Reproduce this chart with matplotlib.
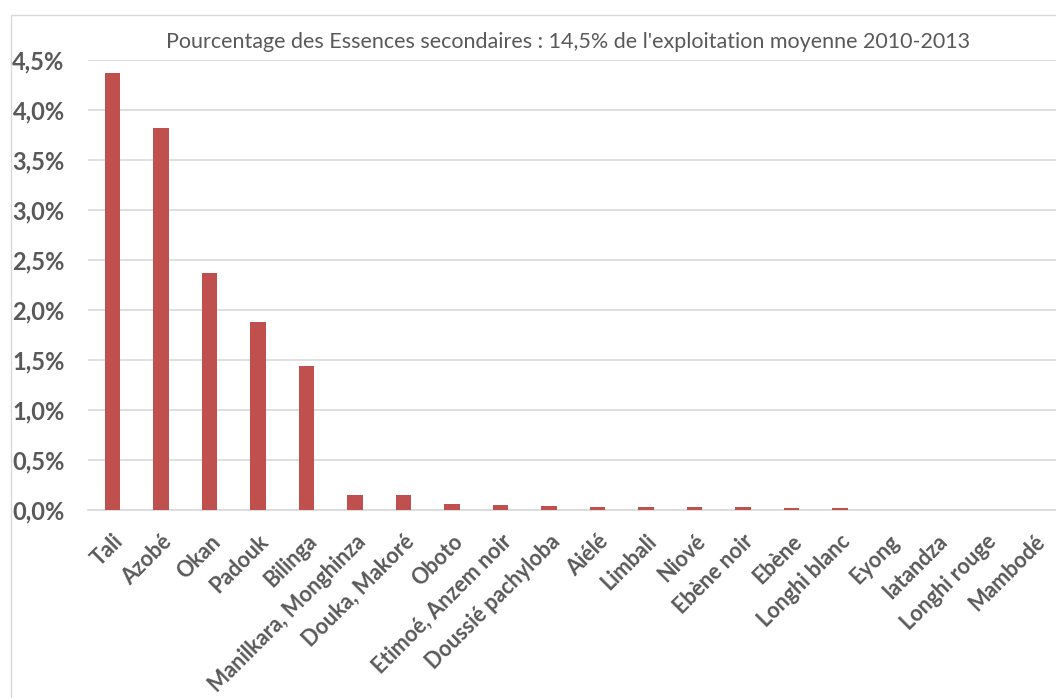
import matplotlib
matplotlib.use("Agg")
import matplotlib.pyplot as plt
from matplotlib.patches import Rectangle
from matplotlib.ticker import FuncFormatter

# essences and their share (%) of the average harvest
essences = ["Tali", "Azobé", "Okan", "Padouk", "Bilinga", "Manilkara, Monghinza",
            "Douka, Makoré", "Oboto", "Etimoé, Anzem noir", "Doussié pachyloba",
            "Aiélé", "Limbali", "Niové", "Ebène noir", "Ebène", "Longhi blanc",
            "Eyong", "Iatandza", "Longhi rouge", "Mambodé"]
pourcentages = [4.37, 3.82, 2.37, 1.88, 1.44, 0.15, 0.15, 0.06, 0.05, 0.04,
                0.03, 0.03, 0.03, 0.03, 0.02, 0.02, 0.005, 0.004, 0.003, 0.002]
yticks = [0, 0.5, 1.0, 1.5, 2.0, 2.5, 3.0, 3.5, 4.0, 4.5]

plt.rcParams['font.family'] = ['Lato', 'DejaVu Sans']
gray = "#595959"

fig = plt.figure(figsize=(10.56, 6.98), dpi=100)
ax = fig.add_axes([0.0835, 0.2693, 0.9185, 0.6447])

ax.bar(range(len(essences)), pourcentages, width=0.32, color="#c0504d", zorder=3)

ax.set_ylim(0, 4.5)
ax.set_xlim(-0.5, len(essences) - 0.5)
ax.set_yticks(yticks)
ax.yaxis.set_major_formatter(FuncFormatter(lambda v, p: ("%.1f%%" % v).replace(".", ",")))
ax.grid(axis="y", color="#d9d9d9", linewidth=1.2, zorder=0)

ax.set_xticks(range(len(essences)))
ax.set_xticklabels(essences, rotation=45, ha="right", rotation_mode="anchor")

for lab in ax.get_yticklabels():
    lab.set_fontsize(17)
    lab.set_fontweight("bold")
    lab.set_color(gray)
for lab in ax.get_xticklabels():
    lab.set_fontsize(15.5)
    lab.set_fontweight("bold")
    lab.set_color(gray)

ax.tick_params(axis="y", length=0, pad=17)
ax.tick_params(axis="x", length=0, pad=15)

for side in ["top", "right", "left"]:
    ax.spines[side].set_visible(False)
ax.spines["bottom"].set_color("#d9d9d9")
ax.spines["bottom"].set_linewidth(1.2)

fig.text(0.538, 0.94, "Pourcentage des Essences secondaires : 14,5% de l'exploitation moyenne 2010-2013",
         ha="center", va="center", fontsize=15.5, color=gray)

# outer chart border
fig.patches.append(Rectangle((0.0104, -0.1), 1.2, 1.0785, transform=fig.transFigure,
                             fill=False, edgecolor="#d9d9d9", linewidth=1))

fig.savefig("out.png", dpi=100)
